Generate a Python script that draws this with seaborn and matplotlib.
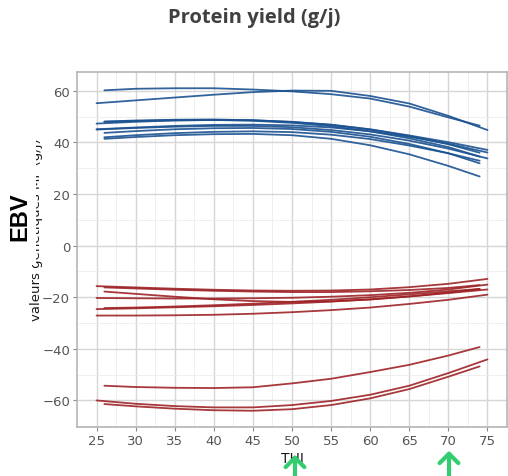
import numpy as np
import pandas as pd
import matplotlib
matplotlib.use("Agg")
import matplotlib.pyplot as plt
import seaborn as sns
from matplotlib.patches import Rectangle, FancyArrowPatch

# THI grids (range of each bull's curve)
thi_a = [25, 30, 35, 40, 45, 50, 55, 60, 65, 70, 75]
thi_b = [26, 30, 35, 40, 45, 50, 55, 60, 65, 70, 74]

# Best bulls (blue): (grid, values)
best = {
    "B1": ("b", [60.2, 60.8, 61.0, 61.0, 60.5, 59.8, 58.7, 57.0, 53.9, 49.7, 46.5]),
    "B2": ("a", [55.2, 56.3, 57.4, 58.5, 59.5, 60.1, 60.0, 58.0, 55.1, 50.3, 44.8]),
    "B3": ("a", [47.3, 48.0, 48.5, 48.7, 48.6, 48.0, 46.9, 45.1, 42.7, 40.1, 37.1]),
    "B4": ("b", [48.1, 48.5, 48.8, 48.9, 48.6, 47.9, 46.8, 45.0, 42.5, 39.3, 36.0]),
    "B5": ("b", [48.0, 48.3, 48.6, 48.7, 48.4, 47.6, 46.3, 44.3, 41.6, 38.2, 34.5]),
    "B6": ("a", [45.1, 45.8, 46.4, 46.8, 46.9, 46.6, 45.8, 44.3, 42.2, 39.5, 36.1]),
    "B7": ("a", [45.0, 45.6, 46.1, 46.4, 46.4, 45.9, 44.8, 43.1, 40.7, 37.6, 33.8]),
    "B8": ("b", [43.7, 44.4, 45.1, 45.5, 45.6, 45.2, 44.1, 42.2, 39.4, 35.8, 31.9]),
    "B9": ("b", [42.0, 42.8, 43.6, 44.1, 44.3, 44.0, 43.0, 41.3, 38.8, 35.8, 32.9]),
    "B10": ("b", [41.4, 42.1, 42.8, 43.2, 43.3, 42.8, 41.4, 38.9, 35.4, 30.9, 26.8]),
}

# Worst bulls (red)
worst = {
    "R1": ("a", [-15.7, -16.2, -16.7, -17.1, -17.4, -17.5, -17.4, -17.0, -16.1, -14.8, -12.9]),
    "R2": ("b", [-16.2, -16.6, -17.1, -17.5, -17.8, -18.0, -18.0, -17.7, -17.2, -16.4, -15.3]),
    "R3": ("b", [-17.8, -18.7, -19.8, -20.8, -21.5, -21.8, -21.6, -20.9, -19.7, -18.2, -16.8]),
    "R4": ("a", [-20.3, -20.4, -20.5, -20.5, -20.4, -20.2, -19.8, -19.2, -18.3, -17.0, -15.1]),
    "R5": ("a", [-24.6, -24.3, -23.9, -23.5, -23.0, -22.4, -21.7, -20.8, -19.7, -18.4, -17.0]),
    "R6": ("b", [-24.2, -24.0, -23.6, -23.1, -22.5, -21.8, -21.0, -20.0, -18.9, -17.7, -16.8]),
    "R7": ("a", [-27.1, -27.1, -27.0, -26.8, -26.4, -25.8, -25.0, -24.0, -22.6, -21.0, -19.0]),
    "R8": ("b", [-54.3, -54.8, -55.1, -55.2, -54.9, -53.4, -51.6, -49.0, -46.2, -42.6, -39.3]),
    "R9": ("a", [-60.0, -61.3, -62.2, -62.7, -62.7, -61.8, -60.2, -57.8, -54.3, -49.4, -44.1]),
    "R10": ("b", [-61.4, -62.3, -63.2, -63.8, -64.0, -63.4, -61.8, -59.2, -55.6, -50.8, -46.8]),
}

x_ticks = [25, 30, 35, 40, 45, 50, 55, 60, 65, 70, 75]
y_ticks = [-60, -40, -20, 0, 20, 40, 60]

rows = []
for grp, d in (("best", best), ("worst", worst)):
    for bull, (g, vals) in d.items():
        grid = thi_a if g == "a" else thi_b
        for t, v in zip(grid, vals):
            rows.append({"bull": bull, "group": grp, "THI": t, "EBV": v})
df = pd.DataFrame(rows)

sns.set_theme(style="whitegrid")
fig = plt.figure(figsize=(5.08, 4.77), dpi=100)
ax = fig.add_axes([77 / 508, 1 - 428 / 477, 430 / 508, (428 - 73) / 477])

sns.lineplot(data=df, x="THI", y="EBV", hue="group", units="bull",
             estimator=None, sort=False, legend=False,
             palette={"best": "#1b5291", "worst": "#9e2226"},
             linewidth=1.3, alpha=0.9, ax=ax)

ax.set_xlim(22.5, 77.5)
ax.set_ylim(-70.3, 67.3)
ax.set_xticks(x_ticks)
ax.set_yticks(y_ticks)
ax.set_xticks(np.arange(27.5, 77.5, 5), minor=True)
ax.set_yticks([-70, -50, -30, -10, 10, 30, 50], minor=True)
ax.grid(which="major", color="#d6d6d6", linewidth=1.0)
ax.grid(which="minor", color="#ececec", linewidth=0.6)
ax.set_facecolor("white")
for s in ax.spines.values():
    s.set_visible(True)
    s.set_color("#b5b5b5")
    s.set_linewidth(1.2)
ax.tick_params(axis="both", which="major", length=3, width=0.8, color="#888888",
               labelsize=9.5, labelcolor="#555555", pad=2, bottom=True, left=True)
ax.tick_params(axis="both", which="minor", length=0)

ax.set_xlabel("THI", fontsize=10, color="#1a1a1a", labelpad=3)
ax.set_ylabel("")

# y-axis title placed as in reference
fig.text(37 / 508, 1 - 230 / 477, "valeurs génétiques MP (g/j)", rotation=90,
         ha="center", va="center", fontsize=9.5, color="#1a1a1a", zorder=4)

# Title
fig.text(254 / 508, 1 - 18 / 477, "Protein yield (g/j)", ha="center", va="center",
         fontsize=14.5, fontweight="bold", color="#404040", family="Open Sans")

# White box partially covering the y label, then "EBV"
fig.patches.append(Rectangle((0, 1 - 266 / 477), 35.5 / 508, 150 / 477,
                             transform=fig.transFigure, facecolor="white",
                             edgecolor="none", zorder=5))
fig.text(20 / 508, 1 - 217 / 477, "EBV", rotation=90, ha="center", va="center",
         fontsize=17, fontweight="bold", color="black", family="Liberation Sans",
         zorder=6)

# Green arrows
for xa, ytip in ((295, 453), (449, 449)):
    arr = FancyArrowPatch((xa / 508, -0.01), (xa / 508, 1 - ytip / 477),
                          transform=fig.transFigure,
                          arrowstyle="->,head_length=0.45,head_width=0.45",
                          mutation_scale=15, color="#33cc6e", linewidth=3.0,
                          capstyle="round", joinstyle="round", zorder=7)
    fig.patches.append(arr)

fig.savefig("out.png", dpi=100)
